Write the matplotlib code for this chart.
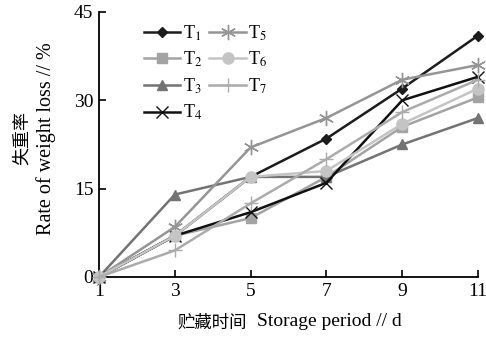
import matplotlib
matplotlib.use("Agg")
import matplotlib.pyplot as plt

days = [1, 3, 5, 7, 9, 11]
T1 = [0, 7.0, 17.0, 23.5, 32.0, 41.0]
T2 = [0, 7.0, 10.0, 17.0, 25.5, 30.5]
T3 = [0, 14.0, 17.0, 17.0, 22.5, 27.0]
T4 = [0, 7.0, 11.0, 16.0, 30.0, 34.0]
T5 = [0, 8.5, 22.0, 27.0, 33.5, 36.0]
T6 = [0, 7.0, 17.0, 18.0, 26.0, 32.0]
T7 = [0, 4.5, 12.5, 20.0, 28.0, 33.5]
labels = ["T$_1$", "T$_2$", "T$_3$", "T$_4$", "T$_5$", "T$_6$", "T$_7$"]
xticks = [1, 3, 5, 7, 9, 11]
yticks = [0, 15, 30, 45]

plt.rcParams['font.family'] = ['Liberation Serif', 'Noto Sans CJK SC']
plt.rcParams['mathtext.fontset'] = 'stix'

fig = plt.figure(figsize=(4.86, 3.38), dpi=100)
ax = fig.add_axes([0.2037, 0.1805, 0.9835 - 0.2037, 0.9645 - 0.1805])

series = [T1, T2, T3, T4, T5, T6, T7]
styles = [
    dict(color='#1c1c1c', marker='D', ms=5),
    dict(color='#a3a3a3', marker='s', ms=7),
    dict(color='#737373', marker='^', ms=7),
    dict(color='#111111', marker='x', ms=8, mew=1.0),
    dict(color='#959595', marker=(6, 2, 0), ms=11, mew=1.0),
    dict(color='#c4c4c4', marker='o', ms=8),
    dict(color='#ababab', marker='+', ms=10, mew=1.0),
]
for vals, lab, st in zip(series, labels, styles):
    ax.plot(days, vals, label=lab, lw=1.8, clip_on=False, zorder=3, **st)

ax.set_xlim(1, 11)
ax.set_ylim(0, 45)
ax.set_xticks(xticks)
ax.set_yticks(yticks)
for s in ['top', 'right']:
    ax.spines[s].set_visible(False)
for s in ['left', 'bottom']:
    ax.spines[s].set_linewidth(1.3)
ax.tick_params(direction='in', length=5, width=1.2, labelsize=14, pad=4)

serif = ['Liberation Serif', 'Noto Sans CJK SC']
cjk = ['Noto Sans CJK SC']
# x label: CJK part + Latin part
fig.text(247 / 486, 1 - 323 / 338, "贮藏时间", family=cjk, fontsize=12.5,
         ha='right', va='center')
fig.text(257 / 486, 1 - 322 / 338, "Storage period // d", family=serif, fontsize=14,
         ha='left', va='center')
# y label: two rotated lines
fig.text(22 / 486, 1 - 138 / 338, "失重率", family=cjk, fontsize=13,
         rotation=90, ha='center', va='center')
fig.text(46 / 486, 1 - 139 / 338, "Rate of weight loss // %", family=serif, fontsize=14.5,
         rotation=90, ha='center', va='center')

leg = ax.legend(ncol=2, loc='upper left', bbox_to_anchor=(0.1, 0.985), frameon=False,
                fontsize=13, handlelength=2.0, handletextpad=0.15, columnspacing=0.4,
                labelspacing=0.4, borderaxespad=0.0)

fig.savefig("out.png", dpi=100)
